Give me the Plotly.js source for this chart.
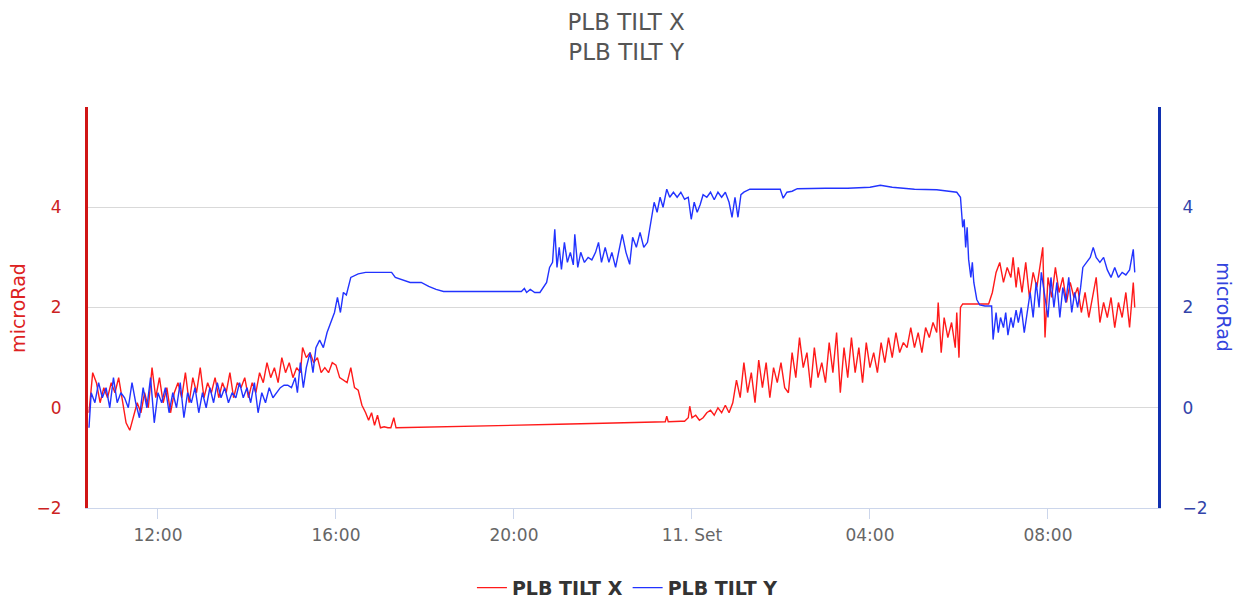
<!DOCTYPE html>
<html>
<head>
<meta charset="utf-8">
<script src="https://cdn.plot.ly/plotly-3.0.1.min.js"></script>
<style>html,body{margin:0;padding:0;background:#fff;}#chart{width:1240px;height:601px;}</style>
</head>
<body>
<div id="chart"></div>
<script>
// Series names
const seriesNames = ['PLB TILT X', 'PLB TILT Y'];

// PLB TILT X : [time (HH:MM, 10 -> 11 Sept), microRad]
const tiltX = [
['10:27',-0.1],['10:32',0.7],['10:37',0.5],['10:42',0.1],['10:47',0.4],['10:52',0.2],['10:57',0.5],['11:02',0.3],
['11:07',0.6],['11:12',0.1],['11:17',-0.3],['11:22',-0.45],['11:27',-0.2],['11:32',0.1],['11:37',-0.1],['11:42',0.3],
['11:47',0.0],['11:52',0.8],['11:57',0.2],['12:02',0.6],['12:07',0.1],['12:12',0.4],['12:17',-0.1],['12:22',0.3],
['12:27',0.5],['12:32',0.2],['12:37',0.7],['12:42',0.1],['12:47',0.6],['12:52',0.3],['12:57',0.8],['13:02',0.2],
['13:07',0.5],['13:12',0.3],['13:17',0.6],['13:22',0.2],['13:27',0.5],['13:32',0.3],['13:37',0.7],['13:42',0.2],
['13:47',0.5],['13:52',0.4],['13:57',0.6],['14:02',0.2],['14:07',0.5],['14:12',0.3],['14:17',0.7],['14:22',0.5],
['14:27',0.9],['14:32',0.6],['14:37',0.8],['14:42',0.5],['14:47',1.0],['14:52',0.7],['14:57',0.9],['15:02',0.6],
['15:07',0.8],['15:12',0.7],['15:15',1.2],['15:20',1.0],['15:25',1.1],['15:30',0.9],['15:35',1.0],['15:40',0.7],
['15:45',0.8],['15:50',0.7],['15:55',0.9],['16:00',0.85],['16:05',0.6],['16:10',0.55],['16:15',0.5],['16:20',0.8],
['16:25',0.4],['16:30',0.35],['16:35',0.05],['16:40',-0.1],['16:44',-0.25],['16:48',-0.1],['16:52',-0.35],['16:56',-0.15],
['17:00',-0.4],['17:05',-0.38],['17:10',-0.4],['17:14',-0.4],['17:18',-0.2],['17:21',-0.4],['18:00',-0.39],['19:00',-0.37],
['20:00',-0.35],['21:00',-0.33],['22:00',-0.31],['23:00',-0.29],['23:24',-0.28],['23:26',-0.17],['23:28',-0.28],['23:45',-0.27],
['23:50',-0.27],['23:55',-0.2],['23:57',0.03],['00:00',-0.2],['00:05',-0.15],['00:10',-0.25],['00:15',-0.2],['00:20',-0.1],
['00:25',-0.05],['00:30',-0.15],['00:35',0.0],['00:40',-0.1],['00:45',0.05],['00:50',-0.1],['00:55',0.1],['01:00',0.55],
['01:05',0.2],['01:10',0.9],['01:15',0.3],['01:20',0.7],['01:25',0.1],['01:30',0.95],['01:35',0.4],['01:40',0.9],
['01:45',0.2],['01:50',0.8],['01:55',0.5],['02:00',0.9],['02:05',0.4],['02:10',0.3],['02:15',1.1],['02:20',0.6],
['02:25',1.4],['02:30',0.8],['02:35',1.1],['02:40',0.4],['02:45',1.2],['02:50',0.6],['02:55',0.9],['03:00',0.5],
['03:05',1.3],['03:10',0.7],['03:15',1.5],['03:20',0.3],['03:25',1.2],['03:30',0.6],['03:35',1.4],['03:40',0.7],
['03:45',1.2],['03:50',0.5],['03:55',1.3],['04:00',0.8],['04:05',1.1],['04:10',0.7],['04:15',1.3],['04:20',0.9],
['04:25',1.4],['04:30',1.0],['04:35',1.5],['04:40',1.1],['04:45',1.3],['04:50',1.2],['04:55',1.6],['05:00',1.2],
['05:05',1.5],['05:10',1.1],['05:15',1.6],['05:20',1.4],['05:25',1.7],['05:30',1.5],['05:32',2.1],['05:36',1.1],
['05:40',1.8],['05:45',1.4],['05:50',1.7],['05:55',1.2],['05:57',1.9],['06:00',1.0],['06:02',2.0],['06:05',2.07],
['06:40',2.07],['06:45',2.3],['06:50',2.7],['06:55',2.9],['07:00',2.5],['07:05',2.8],['07:10',2.6],['07:13',3.0],
['07:17',2.4],['07:20',2.8],['07:25',2.3],['07:30',2.9],['07:35',2.2],['07:40',2.7],['07:45',2.4],['07:50',2.9],
['07:53',3.2],['07:56',1.4],['08:00',2.6],['08:05',2.2],['08:10',2.8],['08:15',2.3],['08:20',2.6],['08:25',2.1],
['08:30',2.5],['08:35',2.2],['08:40',2.4],['08:45',1.9],['08:50',2.3],['08:55',1.8],['09:00',2.2],['09:05',2.6],
['09:10',1.7],['09:15',2.1],['09:20',1.8],['09:25',2.2],['09:30',1.6],['09:35',2.1],['09:40',1.8],['09:45',2.3],
['09:50',1.6],['09:55',2.5],['09:57',2.0]
];

// PLB TILT Y : [time (HH:MM, 10 -> 11 Sept), microRad]
const tiltY = [
['10:27',-0.4],['10:30',0.3],['10:35',0.1],['10:40',0.5],['10:45',0.2],['10:50',0.4],['10:55',0.0],['11:00',0.6],
['11:05',0.1],['11:10',0.3],['11:15',0.2],['11:20',0.0],['11:25',0.5],['11:30',0.1],['11:35',-0.2],['11:40',0.4],
['11:45',0.0],['11:50',0.6],['11:55',-0.3],['12:00',0.3],['12:05',0.1],['12:10',0.4],['12:15',-0.1],['12:20',0.3],
['12:25',0.0],['12:30',0.5],['12:35',-0.2],['12:40',0.3],['12:45',0.1],['12:50',0.4],['12:55',-0.1],['13:00',0.3],
['13:05',0.0],['13:10',0.4],['13:15',0.1],['13:20',0.5],['13:25',0.2],['13:30',0.4],['13:35',0.1],['13:40',0.3],
['13:45',0.2],['13:50',0.5],['13:55',0.2],['14:00',0.4],['14:05',0.1],['14:10',0.5],['14:15',-0.1],['14:20',0.3],
['14:25',0.1],['14:30',0.4],['14:35',0.2],['14:40',0.3],['14:45',0.4],['14:50',0.45],['14:55',0.45],['15:00',0.4],
['15:05',0.6],['15:08',0.3],['15:12',0.9],['15:16',0.4],['15:20',0.8],['15:25',1.1],['15:29',0.7],['15:33',1.2],
['15:38',1.35],['15:43',1.2],['15:48',1.5],['15:53',1.7],['15:58',1.9],['16:02',2.2],['16:06',1.9],['16:10',2.3],
['16:14',2.25],['16:20',2.6],['16:30',2.67],['16:40',2.7],['17:00',2.7],['17:15',2.7],['17:20',2.6],['17:30',2.55],
['17:40',2.5],['17:55',2.5],['18:05',2.42],['18:15',2.36],['18:25',2.32],['19:00',2.32],['20:00',2.32],['20:10',2.32],
['20:14',2.38],['20:17',2.3],['20:22',2.36],['20:28',2.3],['20:35',2.3],['20:39',2.4],['20:44',2.5],['20:48',2.8],
['20:52',2.9],['20:55',3.56],['20:58',2.8],['21:01',3.2],['21:04',2.76],['21:08',3.3],['21:12',2.9],['21:16',3.1],
['21:20',2.85],['21:22',3.46],['21:26',2.8],['21:30',3.1],['21:35',2.9],['21:40',3.0],['21:45',2.95],['21:50',3.1],
['21:54',3.3],['21:58',2.9],['22:03',3.2],['22:08',2.9],['22:12',3.1],['22:17',2.8],['22:22',3.2],['22:26',3.46],
['22:31',3.1],['22:36',2.86],['22:40',3.4],['22:45',3.2],['22:50',3.5],['22:55',3.2],['23:00',3.3],['23:05',3.8],
['23:09',4.1],['23:13',3.9],['23:17',4.2],['23:21',4.0],['23:26',4.36],['23:30',4.2],['23:35',4.3],['23:40',4.2],
['23:45',4.3],['23:50',4.16],['23:55',4.2],['23:59',3.76],['00:03',4.1],['00:07',3.9],['00:11',4.05],['00:15',4.25],
['00:20',4.2],['00:25',4.3],['00:30',4.15],['00:35',4.3],['00:40',4.2],['00:45',4.3],['00:50',4.1],['00:54',3.8],
['00:58',4.2],['01:02',3.8],['01:06',4.25],['01:10',4.3],['01:18',4.36],['01:40',4.36],['01:59',4.36],['02:03',4.18],
['02:08',4.3],['02:15',4.32],['02:22',4.37],['03:00',4.38],['03:30',4.38],['04:00',4.4],['04:14',4.44],['04:30',4.4],
['05:00',4.36],['05:30',4.35],['05:57',4.3],['06:02',4.2],['06:05',3.6],['06:07',3.76],['06:09',3.2],['06:11',3.6],
['06:13',2.96],['06:16',2.6],['06:18',2.9],['06:20',2.5],['06:24',2.16],['06:28',2.05],['06:35',2.03],['06:44',2.03],
['06:46',1.36],['06:50',1.9],['06:53',1.5],['06:56',1.8],['07:00',1.6],['07:03',1.9],['07:06',1.45],['07:10',1.8],
['07:13',1.6],['07:17',1.95],['07:20',1.7],['07:24',2.0],['07:28',1.5],['07:32',1.9],['07:36',2.3],['07:40',1.8],
['07:44',2.5],['07:48',2.0],['07:51',2.7],['07:56',2.2],['08:00',1.8],['08:04',2.6],['08:08',2.0],['08:12',2.5],
['08:16',1.8],['08:20',2.4],['08:24',2.1],['08:28',2.6],['08:32',1.9],['08:36',2.3],['08:40',2.0],['08:44',2.4],
['08:47',2.8],['08:52',2.9],['08:57',3.0],['09:01',3.2],['09:05',3.0],['09:10',2.9],['09:15',3.0],['09:20',2.75],
['09:25',2.6],['09:30',2.8],['09:35',2.6],['09:40',2.7],['09:45',2.65],['09:50',2.75],['09:55',3.16],['09:57',2.7]
];

// Axis ticks
const xTickTimes = ['2021-09-10 12:00','2021-09-10 16:00','2021-09-10 20:00','2021-09-11 00:00','2021-09-11 04:00','2021-09-11 08:00'];
const xTickLabels = ['12:00','16:00','20:00','11. Set','04:00','08:00'];
const yTickVals = [-2, 0, 2, 4, 6];
const yTickLabels = ['−2', '0', '2', '4', ''];

function toDates(points) {
  let day = 10, prev = -1;
  return points.map(p => {
    const parts = p[0].split(':').map(Number);
    const mins = parts[0] * 60 + parts[1];
    if (mins < prev) day = 11;
    prev = mins;
    return '2021-09-' + day + ' ' + p[0];
  });
}

const FONT = '"DejaVu Sans", Verdana, sans-serif';

const traces = [
  {
    x: toDates(tiltX), y: tiltX.map(p => p[1]), name: seriesNames[0],
    type: 'scatter', mode: 'lines', yaxis: 'y',
    line: {color: '#ff1a1a', width: 1.4}
  },
  {
    x: toDates(tiltY), y: tiltY.map(p => p[1]), name: seriesNames[1],
    type: 'scatter', mode: 'lines', yaxis: 'y2',
    line: {color: '#2233ff', width: 1.4}
  }
];

const layout = {
  width: 1240, height: 601,
  margin: {l: 88, r: 82, t: 107, b: 93, autoexpand: false},
  paper_bgcolor: '#ffffff', plot_bgcolor: '#ffffff',
  font: {family: FONT, color: '#666666', size: 17},
  title: {
    text: seriesNames[0] + '<br>' + seriesNames[1],
    font: {family: FONT, size: 23, color: '#555555'},
    xref: 'container', yref: 'container',
    x: 0.505, xanchor: 'center', y: 0.95, yanchor: 'middle'
  },
  showlegend: true,
  legend: {
    orientation: 'h', xref: 'container', yref: 'container',
    x: 0.506, xanchor: 'center', y: 0.022, yanchor: 'middle',
    font: {family: FONT, size: 19, color: '#333333', weight: 'bold'},
    itemwidth: 30, traceorder: 'normal'
  },
  xaxis: {
    type: 'date',
    range: ['2021-09-10 10:25:40', '2021-09-11 10:28:20'],
    tickmode: 'array', tickvals: xTickTimes, ticktext: xTickLabels,
    ticks: 'outside', ticklen: 10, tickcolor: '#ccd6eb', tickwidth: 1,
    showgrid: false, zeroline: false,
    showline: true, linecolor: '#ccd6eb', linewidth: 1,
    tickfont: {family: FONT, size: 17, color: '#666666'},
    ticklabelstandoff: 2
  },
  yaxis: {
    range: [-2, 6],
    tickmode: 'array', tickvals: yTickVals, ticktext: yTickLabels,
    showgrid: true, gridcolor: '#d9d9d9', gridwidth: 1,
    zeroline: false, showline: true, linecolor: '#d01515', linewidth: 3,
    ticks: '', tickfont: {family: FONT, size: 17, color: '#cc2222'},
    ticklabelstandoff: 20
  },
  yaxis2: {
    range: [-2, 6], overlaying: 'y', side: 'right',
    tickmode: 'array', tickvals: yTickVals, ticktext: yTickLabels,
    showgrid: false, zeroline: false, showline: true, linecolor: '#1030b0', linewidth: 3,
    ticks: '', tickfont: {family: FONT, size: 17, color: '#3344aa'},
    ticklabelstandoff: 18
  },
  annotations: [
    {text: 'microRad', xref: 'paper', yref: 'paper', x: -0.066, y: 0.5, textangle: -90,
     showarrow: false, xanchor: 'center', yanchor: 'middle', font: {family: FONT, size: 19, color: '#dd2222'}},
    {text: 'microRad', xref: 'paper', yref: 'paper', x: 1.062, y: 0.5, textangle: 90,
     showarrow: false, xanchor: 'center', yanchor: 'middle', font: {family: FONT, size: 19, color: '#3344dd'}}
  ]
};

Plotly.newPlot('chart', traces, layout, {displayModeBar: false, staticPlot: true});
</script>
</body>
</html>
